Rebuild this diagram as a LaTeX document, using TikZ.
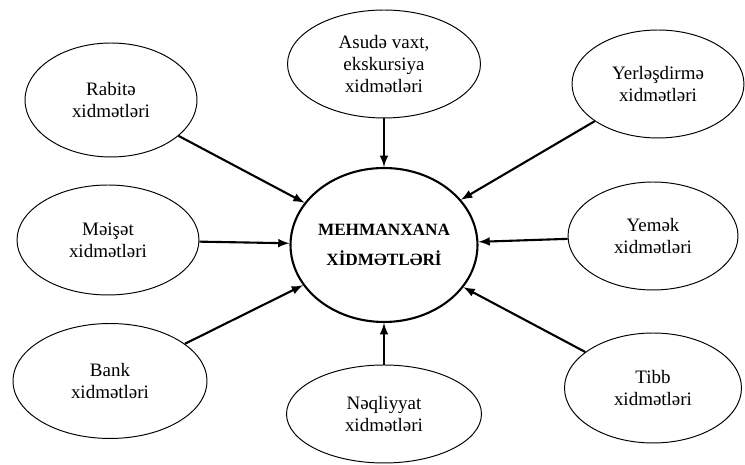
\documentclass[tikz,border=0pt]{standalone}
\usepackage{fontspec}
\setmainfont{Liberation Serif}
\usetikzlibrary{shapes,arrows,positioning}

\begin{document}
\begin{tikzpicture}[x=0.02cm,y=-0.02cm,
	every node/.style={ellipse, draw, inner sep=0pt, align=center, font=\fontsize{10.8}{12.5}\selectfont, line width=0.55pt},
	xid/.style={line width=1.2pt, -latex, shorten >=0pt}]
	\useasboundingbox (0,0) rectangle (745,465);
	\node [minimum width=3.74cm, minimum height=3.08cm, line width=1.2pt, font=\fontsize{9.8}{17}\selectfont\bfseries] (mx) at (384,245) {MEHMANXANA\\XİDMƏTLƏRİ};
	
	\node [minimum width=3.44cm, minimum height=2.28cm] (rab) at (111,100) {Rabitə\\xidmətləri};
	\node [minimum width=3.86cm, minimum height=2.16cm] (asu) at (384,64) {Asudə vaxt,\\ekskursiya\\xidmətləri};
	\node [minimum width=3.44cm, minimum height=2.16cm] (yer) at (658,84) {Yerləşdirmə\\xidmətləri};
	\node [minimum width=3.64cm, minimum height=2.2cm] (mei) at (108,240) {Məişət\\xidmətləri};
	\node [minimum width=3.4cm, minimum height=2.16cm] (yem) at (653,236) {Yemək\\xidmətləri};
	\node [minimum width=3.88cm, minimum height=2.3cm] (bank) at (110,381) {Bank\\xidmətləri};
	\node [minimum width=3.9cm, minimum height=1.96cm] (neq) at (384,414) {Nəqliyyat\\xidmətləri};
	\node [minimum width=3.54cm, minimum height=2.2cm] (tibb) at (653,388) {Tibb\\xidmətləri};
	
	\draw [xid] (rab) -- (mx);
	\draw [xid] (asu) -- (mx);
	\draw [xid] (yer) -- (mx);
	\draw [xid] (mei) -- (mx);
	\draw [xid] (yem) -- (mx);
	\draw [xid] (bank) -- (mx);
	\draw [xid] (neq) -- (mx);
	\draw [xid] (tibb) -- (mx);
\end{tikzpicture}
\end{document}
